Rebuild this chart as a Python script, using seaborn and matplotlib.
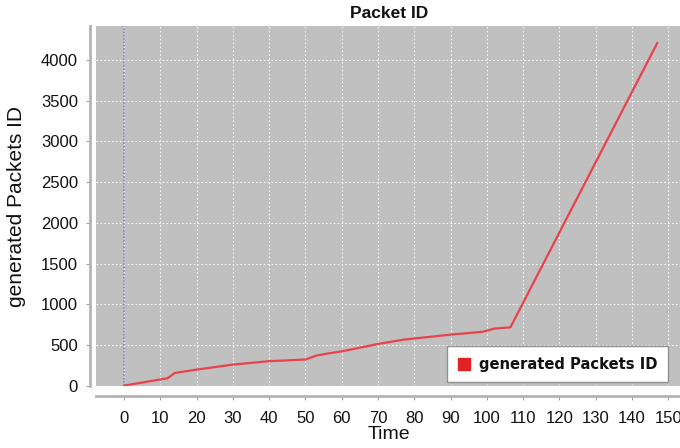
import matplotlib
matplotlib.use("Agg")
import matplotlib.pyplot as plt
from matplotlib.lines import Line2D
import seaborn as sns
import pandas as pd

# Packet generation over time
time = [0, 12, 14, 20, 30, 40, 50, 53, 56, 60, 70, 77, 90, 99, 102, 106.5, 147]
packet_id = [0, 90, 155, 196, 258, 300, 320, 368, 393, 421, 511, 564, 626, 662, 700, 716, 4212]

x_ticks = list(range(0, 151, 10))
y_ticks = list(range(0, 4001, 500))
series_name = "generated Packets ID"

df = pd.DataFrame({"Time": time, series_name: packet_id})

sns.set_theme(style="white")
plt.rcParams["font.family"] = ["Liberation Sans", "DejaVu Sans"]

fig = plt.figure(figsize=(6.8, 4.48), dpi=100)
ax = fig.add_axes([96 / 680, 1 - 386 / 448, 1 - 96 / 680 + 0.002, (386 - 26) / 448])
ax.set_facecolor("#c0c0c0")

sns.lineplot(data=df, x="Time", y=series_name, ax=ax, color="#e8434c",
             linewidth=1.6, legend=False, zorder=4)

ax.set_xlim(-7.7, 153.6)
ax.set_ylim(-5, 4418)
ax.set_xticks(x_ticks)
ax.set_yticks(y_ticks)

# dotted white grid
ax.grid(True, color="white", linestyle=(0, (1.5, 2)), linewidth=0.8, alpha=0.85)
ax.set_axisbelow(True)

# domain marker at time zero
ax.axvline(0, color="#7a7ac8", linestyle=(0, (1, 1.2)), linewidth=1.1, zorder=3)

for side in ("top", "right"):
    ax.spines[side].set_visible(False)
ax.spines["left"].set_position(("outward", 4))
ax.spines["bottom"].set_position(("outward", 7))
for side in ("left", "bottom"):
    ax.spines[side].set_color("#b4b4b4")
    ax.spines[side].set_linewidth(2)

ax.tick_params(axis="both", which="major", length=3, width=0.8, color="#a0a0a0",
               labelsize=12, labelcolor="#111111", direction="out", pad=6)
ax.tick_params(axis="x", bottom=True, pad=8)
ax.tick_params(axis="y", left=True)

ax.set_xlabel("Time", fontsize=14, color="#111111", labelpad=0)
ax.set_ylabel(series_name, fontsize=15, color="#111111", labelpad=11)
ax.set_title("Packet ID", fontsize=12.5, fontweight="bold", color="#111111", pad=6)

handle = Line2D([], [], marker="s", linestyle="none", markersize=9,
                markerfacecolor="#e02424", markeredgecolor="#e02424")
leg = ax.legend([handle], [series_name], loc="lower right",
                bbox_to_anchor=(668 / 680, 1 - 382 / 448),
                bbox_transform=fig.transFigure, borderaxespad=0,
                frameon=True, fancybox=False,
                prop={"family": "DejaVu Sans", "weight": "bold", "size": 10.6},
                handletextpad=0.5, borderpad=0.7, handlelength=1.0)
leg.get_frame().set_edgecolor("#909090")
leg.get_frame().set_linewidth(1.0)
leg.get_frame().set_facecolor("white")
leg.get_frame().set_alpha(1.0)
for t in leg.get_texts():
    t.set_color("#111111")

fig.savefig("out.png", dpi=100)
